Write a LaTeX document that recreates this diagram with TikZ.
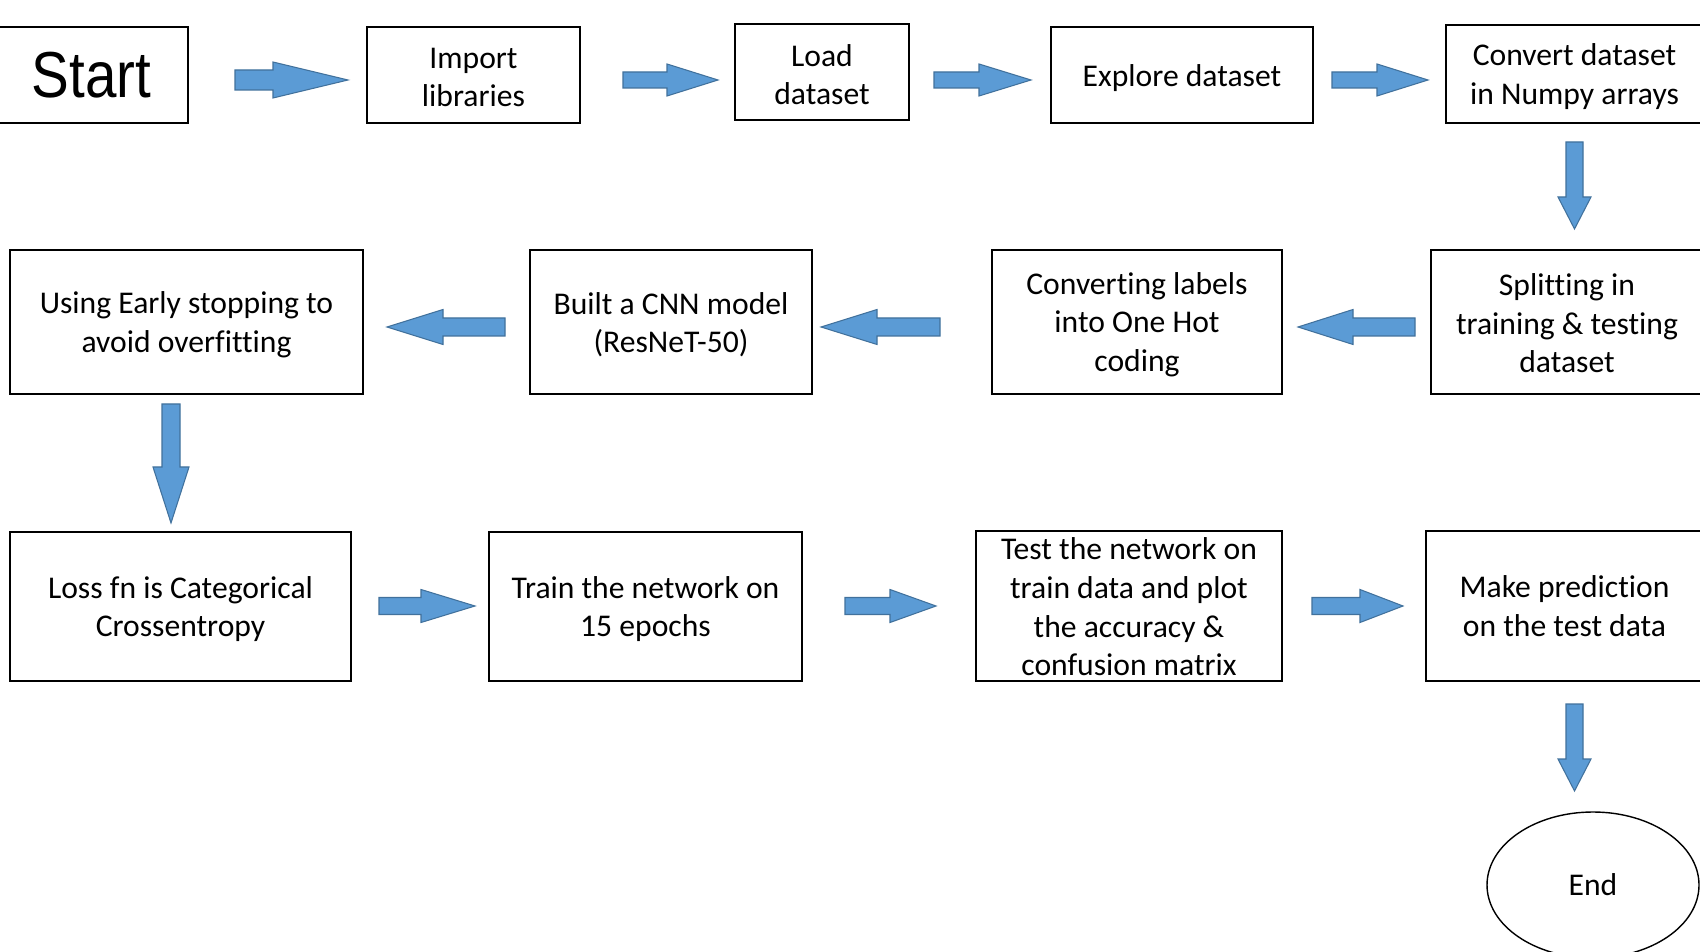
\documentclass[tikz,border=0pt]{standalone}
\usepackage{fontspec}
\setmainfont{Carlito}[Ligatures=NoCommon]
\newfontfamily\startfont{Liberation Sans}
\usetikzlibrary{shapes.geometric}
\definecolor{arrfill}{HTML}{5B9BD5}
\definecolor{arrline}{HTML}{41719C}
\def\pxu{0.02cm}
% horizontal block arrow: tail x, head-base x, tip x, centre y, shaft half, head half
\newcommand\HArr[6]{\draw[blockarrow] (#1,#4-#5) -- (#2,#4-#5) -- (#2,#4-#6) -- (#3,#4) -- (#2,#4+#6) -- (#2,#4+#5) -- (#1,#4+#5) -- cycle;}
% vertical block arrow: tail y, head-base y, tip y, centre x, shaft half, head half
\newcommand\VArr[6]{\draw[blockarrow] (#4-#5,#1) -- (#4-#5,#2) -- (#4-#6,#2) -- (#4,#3) -- (#4+#6,#2) -- (#4+#5,#2) -- (#4+#5,#1) -- cycle;}
\tikzset{
  box/.style={draw=black, line width=1.1pt, inner sep=0pt},
  boxtext/.style={align=center, inner sep=0pt, font=\fontsize{18}{22}\selectfont, yshift=-2.6*\pxu},
  endshape/.style={draw=black, line width=0.8pt, ellipse, inner sep=0pt,
    font=\fontsize{18}{22}\selectfont},
  blockarrow/.style={fill=arrfill, draw=arrline, line width=0.6pt, line join=miter}
}
\begin{document}
\begin{tikzpicture}[x=0.02cm, y=-0.02cm]
\useasboundingbox (0,0) rectangle (1700,952);
\clip (0,0) rectangle (1700,952);
\fill[white] (0,0) rectangle (1700,952);
% row 1
\node[box, minimum width=193*\pxu, minimum height=96*\pxu] (start) at (91.5,75)
  {\startfont\fontsize{37}{40}\selectfont\scalebox{0.87}[1]{Start}};
\node[box, minimum width=213*\pxu, minimum height=96*\pxu,
  label={[boxtext]center:Import\\libraries}] (import) at (473.5,75) {};
\node[box, minimum width=174*\pxu, minimum height=96*\pxu,
  label={[boxtext]center:Load\\dataset}] (load) at (822,72) {};
\node[box, minimum width=262*\pxu, minimum height=96*\pxu,
  label={[boxtext]center:Explore dataset}] (explore) at (1182,75) {};
\node[box, minimum width=257*\pxu, minimum height=98*\pxu,
  label={[boxtext]center:Convert dataset\\in Numpy arrays}] (convert) at (1574.5,74) {};
% row 2
\node[box, minimum width=272*\pxu, minimum height=144*\pxu,
  label={[boxtext, yshift=1.2*\pxu]center:Splitting in\\training \& testing\\dataset}] (split) at (1567,322) {};
\node[box, minimum width=290*\pxu, minimum height=144*\pxu,
  label={[boxtext]center:Converting labels\\into One Hot\\coding}] (onehot) at (1137,322) {};
\node[box, minimum width=282*\pxu, minimum height=144*\pxu,
  label={[boxtext]center:Built a CNN model\\(ResNeT-50)}] (cnn) at (671,322) {};
\node[box, minimum width=353*\pxu, minimum height=144*\pxu,
  label={[boxtext]center:Using Early stopping to\\avoid overfitting}] (early) at (186.5,322) {};
% row 3
\node[box, minimum width=341*\pxu, minimum height=149*\pxu,
  label={[boxtext]center:Loss fn is Categorical\\Crossentropy}] (loss) at (180.5,606.5) {};
\node[box, minimum width=313*\pxu, minimum height=149*\pxu,
  label={[boxtext]center:Train the network on\\15 epochs}] (train) at (645.5,606.5) {};
\node[box, minimum width=306*\pxu, minimum height=150*\pxu,
  label={[boxtext, yshift=1.5*\pxu]center:Test the network on\\train data and plot\\the accuracy \&\\confusion matrix}] (test) at (1129,606) {};
\node[box, minimum width=277*\pxu, minimum height=150*\pxu,
  label={[boxtext, yshift=2.6*\pxu]center:Make prediction\\on the test data}] (pred) at (1564.5,606) {};
\node[endshape, minimum width=212*\pxu, minimum height=146*\pxu] (end) at (1593,885) {End};
% row 1 arrows
\HArr{235}{273}{348}{80}{10}{18}
\HArr{623}{667}{718}{80}{8}{16}
\HArr{934}{979}{1031}{80}{8}{16}
\HArr{1332}{1377}{1428}{80}{8}{16}
\VArr{142}{197}{229}{1574.5}{8.5}{16.5}
% row 2 arrows
\HArr{1415}{1353}{1298}{327}{9}{17.5}
\HArr{940}{877}{821}{327}{9}{17.5}
\HArr{505}{443}{387}{327}{9}{17.5}
\VArr{404}{467}{523}{171}{9}{18}
% row 3 arrows
\HArr{379}{421}{475}{606}{8.5}{16.5}
\HArr{845}{890}{936}{606}{8.5}{16.5}
\HArr{1312}{1360}{1403}{606}{8.5}{16.5}
\VArr{704}{759}{791}{1574.5}{8.5}{16.5}
\end{tikzpicture}
\end{document}
